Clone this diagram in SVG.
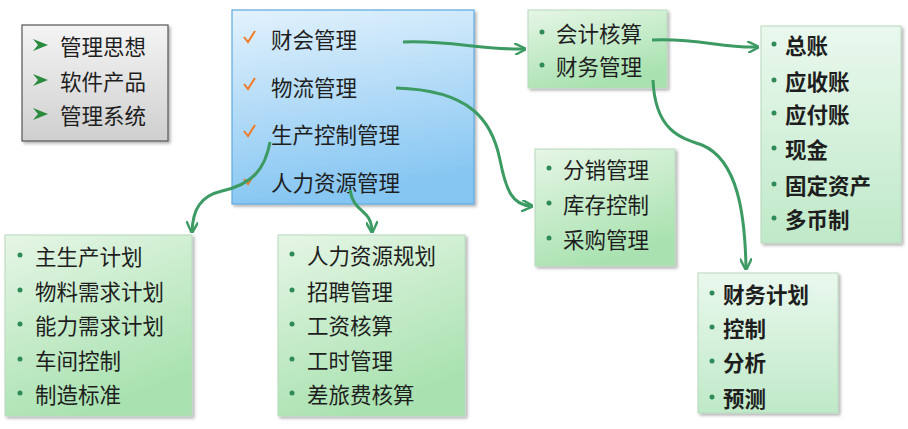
<svg xmlns="http://www.w3.org/2000/svg" width="908" height="429" viewBox="0 0 908 429">
<defs>
<linearGradient id="gGreen" x1="0" y1="0" x2="0.4" y2="1"><stop offset="0" stop-color="#e6f6e6"/><stop offset="1" stop-color="#a9e2b0"/></linearGradient>
<linearGradient id="gGreen2" x1="0" y1="0" x2="0" y2="1"><stop offset="0" stop-color="#eaf8ee"/><stop offset="1" stop-color="#bfe9c8"/></linearGradient>
<linearGradient id="gBlue" x1="0" y1="0" x2="0.2" y2="1"><stop offset="0" stop-color="#e3f2fd"/><stop offset="1" stop-color="#86c6f2"/></linearGradient>
<linearGradient id="gGray" x1="0" y1="0" x2="0" y2="1"><stop offset="0" stop-color="#f4f4f4"/><stop offset="1" stop-color="#cfcfcf"/></linearGradient>
<filter id="sh" x="-10%" y="-10%" width="125%" height="125%"><feDropShadow dx="2" dy="2" stdDeviation="1.5" flood-color="#000" flood-opacity="0.3"/></filter>
<marker id="ah" viewBox="0 0 10 10" refX="8" refY="5" markerWidth="4" markerHeight="4" orient="auto" markerUnits="strokeWidth"><path d="M0,0 L10,5 L0,10" fill="none" stroke="#3c9a63" stroke-width="2"/></marker>
</defs>
<style>
text{font-family:"Noto Sans CJK SC","Noto Sans",sans-serif;font-size:21.5px;fill:#1e1e1e;dominant-baseline:central}
.b{font-weight:bold}
.dot{fill:#2e8b57}
.box{stroke:#b8d8bc;stroke-width:1;filter:url(#sh)}
.conn path{fill:none;stroke:#3c9a63;stroke-width:3;marker-end:url(#ah)}
.chk{fill:none;stroke:#f07a28;stroke-width:2}
.arr{fill:#2a8a3e}
</style>
<rect width="908" height="429" fill="#ffffff"/>

<g id="concepts">
<rect x="22" y="25" width="146" height="116" fill="url(#gGray)" stroke="#555" stroke-width="1.2" filter="url(#sh)"/>
<path class="arr" d="M33,39 L48,45 L33,51 L38,45Z"/>
<path class="arr" d="M33,74 L48,80 L33,86 L38,80Z"/>
<path class="arr" d="M33,108 L48,114 L33,120 L38,114Z"/>
<text x="60" y="45">管理思想</text>
<text x="60" y="80">软件产品</text>
<text x="60" y="114">管理系统</text>
</g>

<g id="modules">
<rect x="232" y="10" width="242" height="194" fill="url(#gBlue)" stroke="#5ea9df" stroke-width="1.2" filter="url(#sh)"/>
<path class="chk" d="M244,37 L248,42 L255,31"/>
<path class="chk" d="M244,84 L248,89 L255,78"/>
<path class="chk" d="M244,131 L248,136 L255,125"/>
<path class="chk" d="M244,179 L248,184 L255,173"/>
<text x="271" y="38">财会管理</text>
<text x="271" y="86">物流管理</text>
<text x="271" y="133">生产控制管理</text>
<text x="271" y="181">人力资源管理</text>
</g>

<g id="finance">
<rect x="528" y="10" width="139" height="78" fill="url(#gGreen)" class="box"/>
<circle class="dot" cx="542" cy="32" r="2.5"/><text x="556" y="32">会计核算</text>
<circle class="dot" cx="542" cy="65" r="2.5"/><text x="556" y="65">财务管理</text>
</g>

<g id="accounting">
<rect x="761" y="26" width="140" height="217" fill="url(#gGreen2)" class="box"/>
<circle class="dot" cx="774" cy="44" r="2.5"/><text class="b" x="785" y="44">总账</text>
<circle class="dot" cx="774" cy="80" r="2.5"/><text class="b" x="785" y="80">应收账</text>
<circle class="dot" cx="774" cy="113" r="2.5"/><text class="b" x="785" y="113">应付账</text>
<circle class="dot" cx="774" cy="148" r="2.5"/><text class="b" x="785" y="148">现金</text>
<circle class="dot" cx="774" cy="184" r="2.5"/><text class="b" x="785" y="184">固定资产</text>
<circle class="dot" cx="774" cy="218" r="2.5"/><text class="b" x="785" y="218">多币制</text>
</g>

<g id="logistics">
<rect x="535" y="149" width="140" height="117" fill="url(#gGreen)" class="box"/>
<circle class="dot" cx="549" cy="168" r="2.5"/><text x="563" y="168">分销管理</text>
<circle class="dot" cx="549" cy="203" r="2.5"/><text x="563" y="203">库存控制</text>
<circle class="dot" cx="549" cy="238" r="2.5"/><text x="563" y="238">采购管理</text>
</g>

<g id="financial-mgmt">
<rect x="698" y="273" width="140" height="140" fill="url(#gGreen2)" class="box"/>
<circle class="dot" cx="712" cy="293" r="2.5"/><text class="b" x="723" y="293">财务计划</text>
<circle class="dot" cx="712" cy="327" r="2.5"/><text class="b" x="723" y="327">控制</text>
<circle class="dot" cx="712" cy="361" r="2.5"/><text class="b" x="723" y="361">分析</text>
<circle class="dot" cx="712" cy="397" r="2.5"/><text class="b" x="723" y="397">预测</text>
</g>

<g id="production">
<rect x="5" y="235" width="187" height="181" fill="url(#gGreen)" class="box"/>
<circle class="dot" cx="20" cy="255" r="2.5"/><text x="35" y="255">主生产计划</text>
<circle class="dot" cx="20" cy="290" r="2.5"/><text x="35" y="290">物料需求计划</text>
<circle class="dot" cx="20" cy="324" r="2.5"/><text x="35" y="324">能力需求计划</text>
<circle class="dot" cx="20" cy="359" r="2.5"/><text x="35" y="359">车间控制</text>
<circle class="dot" cx="20" cy="393" r="2.5"/><text x="35" y="393">制造标准</text>
</g>

<g id="hr">
<rect x="278" y="235" width="187" height="181" fill="url(#gGreen)" class="box"/>
<circle class="dot" cx="292" cy="254" r="2.5"/><text x="307" y="254">人力资源规划</text>
<circle class="dot" cx="292" cy="290" r="2.5"/><text x="307" y="290">招聘管理</text>
<circle class="dot" cx="292" cy="324" r="2.5"/><text x="307" y="324">工资核算</text>
<circle class="dot" cx="292" cy="359" r="2.5"/><text x="307" y="359">工时管理</text>
<circle class="dot" cx="292" cy="393" r="2.5"/><text x="307" y="393">差旅费核算</text>
</g>

<g id="connectors" class="conn">
<path d="M403,42 C450,40 480,50 524,49"/>
<path d="M652,40 C700,38 720,48 757,47"/>
<path d="M396,88 C470,90 492,120 500,160 C506,190 512,205 531,206"/>
<path d="M653,80 C655,130 680,138 702,145 C738,160 745,215 746,268"/>
<path d="M270,142 C265,170 252,184 222,191 C200,196 193,210 192,231"/>
<path d="M350,190 C354,214 371,208 372,231"/>
</g>
</svg>
